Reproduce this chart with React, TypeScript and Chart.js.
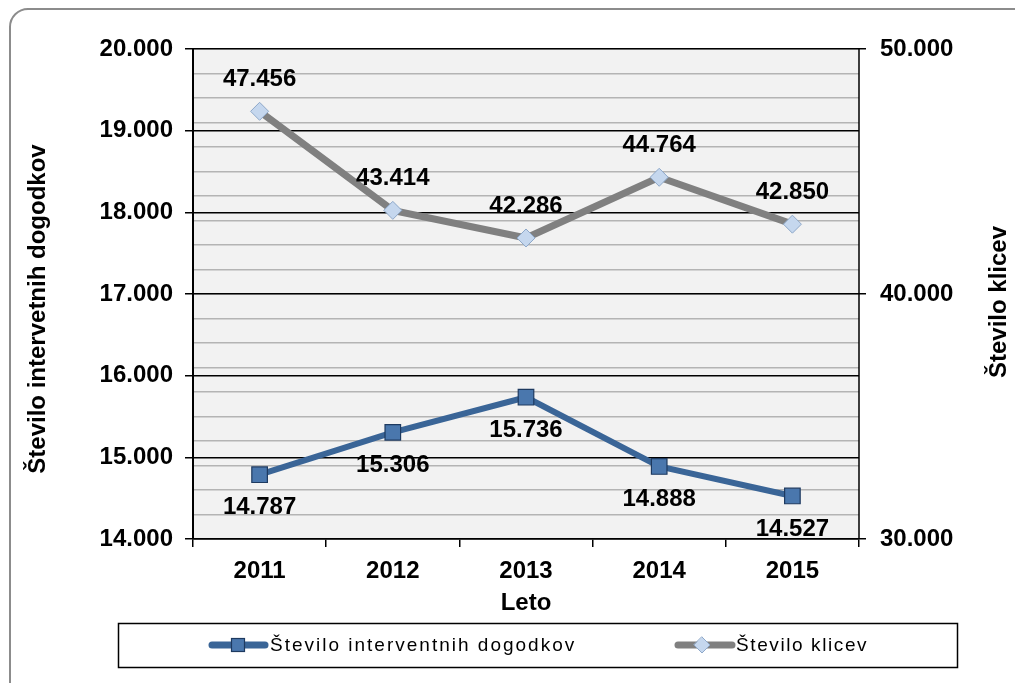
import React, { useEffect, useRef } from 'react';
import { Chart, registerables } from 'chart.js';

Chart.register(...registerables);

const years = ['2011', '2012', '2013', '2014', '2015'];
const interventions = [14787, 15306, 15736, 14888, 14527];
const calls = [47456, 43414, 42286, 44764, 42850];

const leftMin = 14000;
const leftMax = 20000;
const leftStep = 1000;
const rightMin = 30000;
const rightMax = 50000;
const rightStep = 1000;
const rightLabelStep = 10000;

const seriesNames = ['Število interventnih dogodkov', 'Število klicev'];
const leftTitle = 'Število intervetnih dogodkov';
const rightTitle = 'Število klicev';
const xTitle = 'Leto';

const BLUE = '#3a6597';
const GRAY = '#808080';

const fmt = (v: number) => String(Math.round(v)).replace(/\B(?=(\d{3})+(?!\d))/g, '.');

const drawSquare = (ctx: CanvasRenderingContext2D, x: number, y: number, s: number) => {
  ctx.save();
  ctx.fillStyle = '#4a77ad';
  ctx.strokeStyle = '#1e3a60';
  ctx.lineWidth = 1.2;
  ctx.fillRect(x - s / 2, y - s / 2, s, s);
  ctx.strokeRect(x - s / 2, y - s / 2, s, s);
  ctx.restore();
};

const drawDiamond = (ctx: CanvasRenderingContext2D, x: number, y: number, r: number) => {
  ctx.save();
  ctx.fillStyle = '#c5d7ee';
  ctx.strokeStyle = '#8ea8c9';
  ctx.lineWidth = 1;
  ctx.beginPath();
  ctx.moveTo(x, y - r);
  ctx.lineTo(x + r, y);
  ctx.lineTo(x, y + r);
  ctx.lineTo(x - r, y);
  ctx.closePath();
  ctx.fill();
  ctx.stroke();
  ctx.restore();
};

const decorPlugin = {
  id: 'decor',
  beforeDraw(chart: any) {
    const { ctx, chartArea } = chart;
    ctx.save();
    ctx.fillStyle = '#ffffff';
    ctx.fillRect(0, 0, chart.width, chart.height);
    ctx.strokeStyle = '#8c8c8c';
    ctx.lineWidth = 2;
    ctx.beginPath();
    (ctx as any).roundRect(10, 9, chart.width + 40, chart.height + 40, 18);
    ctx.stroke();
    ctx.fillStyle = '#f2f2f2';
    ctx.fillRect(chartArea.left, chartArea.top, chartArea.right - chartArea.left, chartArea.bottom - chartArea.top);
    ctx.restore();
  },
  afterDatasetsDraw(chart: any) {
    const { ctx } = chart;
    ctx.save();
    ctx.font = 'bold 24px "Liberation Sans", Arial, sans-serif';
    ctx.fillStyle = '#000';
    ctx.textAlign = 'center';
    ctx.textBaseline = 'middle';
    chart.data.datasets.forEach((ds: any, i: number) => {
      const meta = chart.getDatasetMeta(i);
      meta.data.forEach((pt: any, j: number) => {
        const off = i === 0 ? 33 : -32;
        ctx.fillText(fmt(ds.data[j]), pt.x, pt.y + off);
      });
    });
    ctx.restore();
  },
  afterDraw(chart: any) {
    const { ctx, chartArea } = chart;
    ctx.save();
    ctx.strokeStyle = '#000';
    ctx.lineWidth = 1.5;
    ctx.beginPath();
    ctx.moveTo(chartArea.right, chartArea.top);
    ctx.lineTo(chartArea.right, chartArea.bottom);
    ctx.stroke();

    ctx.fillStyle = '#000';
    ctx.font = 'bold 24px "Liberation Sans", Arial, sans-serif';
    ctx.textAlign = 'center';
    ctx.textBaseline = 'middle';
    ctx.fillText(xTitle, (chartArea.left + chartArea.right) / 2, 603);

    ctx.save();
    ctx.translate(38, 309);
    ctx.rotate(-Math.PI / 2);
    ctx.fillText(leftTitle, 0, 0);
    ctx.restore();

    ctx.save();
    ctx.translate(999, 302);
    ctx.rotate(-Math.PI / 2);
    ctx.fillText(rightTitle, 0, 0);
    ctx.restore();

    ctx.strokeStyle = '#000';
    ctx.lineWidth = 1.5;
    ctx.strokeRect(118.5, 623.5, 839, 44);
    const ly = 645;
    ctx.lineCap = 'round';
    ctx.lineWidth = 7;
    ctx.strokeStyle = BLUE;
    ctx.beginPath();
    ctx.moveTo(212, ly);
    ctx.lineTo(265, ly);
    ctx.stroke();
    drawSquare(ctx, 238, ly, 13);
    ctx.strokeStyle = GRAY;
    ctx.beginPath();
    ctx.moveTo(678, ly);
    ctx.lineTo(732, ly);
    ctx.stroke();
    drawDiamond(ctx, 702, ly, 8);

    ctx.font = '19px "Liberation Sans", Arial, sans-serif';
    (ctx as any).letterSpacing = '2px';
    ctx.textAlign = 'left';
    ctx.textBaseline = 'middle';
    ctx.fillStyle = '#000';
    ctx.fillText(seriesNames[0], 270, ly + 1);
    (ctx as any).letterSpacing = '1.6px';
    ctx.fillText(seriesNames[1], 736, ly + 1);
    (ctx as any).letterSpacing = '0px';
    ctx.restore();
  },
};

export default function App() {
  const ref = useRef<HTMLCanvasElement | null>(null);

  useEffect(() => {
    if (!ref.current) return;
    const tickFont = { family: '"Liberation Sans", Arial, sans-serif', size: 24, weight: 'bold' as const };
    const chart = new Chart(ref.current, {
      type: 'line',
      data: {
        labels: years,
        datasets: [
          {
            label: seriesNames[0],
            data: interventions,
            yAxisID: 'y',
            borderColor: BLUE,
            borderWidth: 6,
            backgroundColor: '#4a77ad',
            pointStyle: 'rect',
            pointRadius: 11,
            pointBorderColor: '#1e3a60',
            pointBorderWidth: 1.2,
            pointBackgroundColor: '#4a77ad',
            tension: 0,
          },
          {
            label: seriesNames[1],
            data: calls,
            yAxisID: 'y2',
            borderColor: GRAY,
            borderWidth: 7,
            backgroundColor: '#c5d7ee',
            pointStyle: 'rectRot',
            pointRadius: 9,
            pointBorderColor: '#8ea8c9',
            pointBorderWidth: 1,
            pointBackgroundColor: '#c5d7ee',
            tension: 0,
          },
        ],
      },
      options: {
        responsive: false,
        animation: false,
        layout: { padding: { top: 49, left: 0, right: 0, bottom: 0 } },
        plugins: {
          legend: { display: false },
          tooltip: { enabled: false },
        },
        scales: {
          x: {
            type: 'category',
            offset: true,
            grid: {
              offset: true,
              drawOnChartArea: false,
              drawTicks: true,
              tickLength: 8,
              color: '#000',
              lineWidth: 1.5,
            },
            border: { display: true, color: '#000', width: 1.5 },
            ticks: { font: tickFont, color: '#000', padding: 10, maxRotation: 0 },
            afterFit: (s: any) => { s.height = 144; },
          },
          y2: {
            type: 'linear',
            position: 'right',
            min: rightMin,
            max: rightMax,
            z: -1,
            grid: {
              drawOnChartArea: true,
              color: '#b4b4b4',
              lineWidth: 1.5,
              tickLength: 7,
              tickColor: (c: any) => (c.tick && c.tick.value % rightLabelStep === 0 ? '#000' : 'rgba(0,0,0,0)'),
            },
            border: { display: false },
            ticks: {
              stepSize: rightStep,
              autoSkip: false,
              font: tickFont,
              color: '#000',
              padding: 14,
              callback: (v: any) => (Number(v) % rightLabelStep === 0 ? fmt(Number(v)) : ''),
            },
            afterFit: (s: any) => { s.width = 156; },
          },
          y: {
            type: 'linear',
            position: 'left',
            min: leftMin,
            max: leftMax,
            grid: {
              drawOnChartArea: true,
              color: '#000',
              lineWidth: 1.5,
              tickLength: 8,
            },
            border: { display: true, color: '#000', width: 2 },
            ticks: {
              stepSize: leftStep,
              font: tickFont,
              color: '#000',
              padding: 12,
              callback: (v: any) => fmt(Number(v)),
            },
            afterFit: (s: any) => { s.width = 193; },
          },
        },
      },
      plugins: [decorPlugin],
    });
    return () => chart.destroy();
  }, []);

  return (
    <div style={{ position: 'absolute', left: 0, top: 0, width: 1015, height: 683, background: '#fff' }}>
      <canvas ref={ref} width={1015} height={683} style={{ display: 'block' }} />
    </div>
  );
}
